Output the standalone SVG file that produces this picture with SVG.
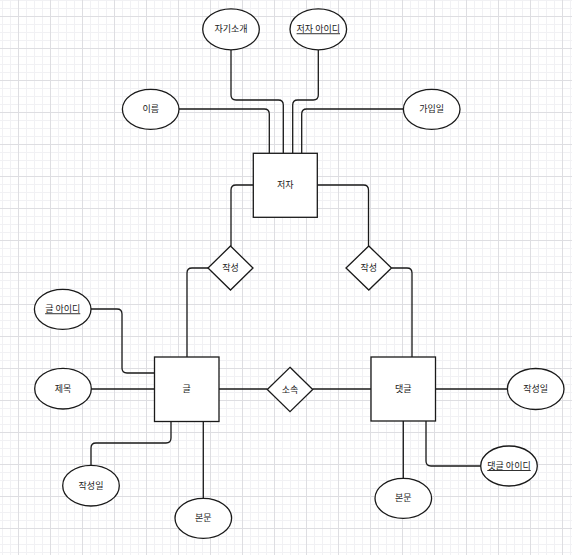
<svg xmlns="http://www.w3.org/2000/svg" width="572" height="555" viewBox="0 0 572 555">
<defs>
<pattern id="minor" x="2" y="0" width="8" height="8" patternUnits="userSpaceOnUse">
<path d="M0,0.5 H8 M0.5,0 V8" fill="none" stroke="#f1f1f4" stroke-width="1"/>
</pattern>
<pattern id="major" x="18" y="16" width="32" height="32" patternUnits="userSpaceOnUse">
<path d="M0,0.5 H32 M0.5,0 V32" fill="none" stroke="#dedee2" stroke-width="1"/>
</pattern>
</defs>
<style>
.shape{fill:#ffffff;stroke:#1a1a1a;stroke-width:1.3}
.conn path{fill:none;stroke:#1a1a1a;stroke-width:1.3}
text{font-family:"Noto Sans CJK KR","Noto Sans",sans-serif;font-size:9px;fill:#1a1a1a;text-anchor:middle}
.key{text-decoration:underline}
</style>
<rect width="572" height="555" fill="#ffffff"/>
<rect width="572" height="555" fill="url(#minor)"/>
<rect width="572" height="555" fill="url(#major)"/>

<g id="connectors" class="conn">
<path d="M231,50 V95 Q231,100 236,100 H278.3 Q283.3,100 283.3,105 V153"/>
<path d="M318.3,50 V95 Q318.3,100 313.3,100 H297.7 Q292.7,100 292.7,105 V153"/>
<path d="M179,109 H264.3 Q269.3,109 269.3,114 V153"/>
<path d="M403.3,109 H306.7 Q301.7,109 301.7,114 V153"/>
<path d="M253,185 H236 Q231,185 231,190 V246"/>
<path d="M317,185 H363.5 Q368.5,185 368.5,190 V246"/>
<path d="M208,268 H192 Q187,268 187,273 V357"/>
<path d="M391.5,268 H407 Q412,268 412,273 V357"/>
<path d="M91,309 H117 Q122,309 122,314 V368 Q122,373 127,373 H154"/>
<path d="M91,389 H154"/>
<path d="M219,389 H267.5"/>
<path d="M312.5,389 H371"/>
<path d="M435,389 H507.5"/>
<path d="M403.3,421 V478.3"/>
<path d="M426,421 V461 Q426,466 431,466 H481"/>
<path d="M171,421.5 V438 Q171,443 166,443 H96 Q91,443 91,448 V465.5"/>
<path d="M203.3,421.5 V498.3"/>
</g>

<g id="author">
<rect class="shape" x="253.3" y="153.3" width="64" height="64"/>
<text x="285.3" y="188.3">저자</text>
</g>
<g id="author-intro">
<ellipse class="shape" cx="231" cy="29.3" rx="28.3" ry="20.5"/>
<text x="231" y="32.3">자기소개</text>
</g>
<g id="author-id">
<ellipse class="shape" cx="318.3" cy="29.3" rx="28.3" ry="20.5"/>
<text class="key" x="318.3" y="32.3">저자 아이디</text>
</g>
<g id="author-name">
<ellipse class="shape" cx="150.7" cy="109.3" rx="28.3" ry="20"/>
<text x="150.7" y="112.3">이름</text>
</g>
<g id="author-joined">
<ellipse class="shape" cx="431.7" cy="109.3" rx="28.3" ry="20"/>
<text x="431.7" y="112.3">가입일</text>
</g>

<g id="writes-post">
<polygon class="shape" points="230.5,246 253,268 230.5,290 208,268"/>
<text x="230.5" y="271">작성</text>
</g>
<g id="writes-comment">
<polygon class="shape" points="368.8,246 391.5,268 368.8,290 346,268"/>
<text x="368.8" y="271">작성</text>
</g>

<g id="post">
<rect class="shape" x="154.5" y="357" width="64.5" height="64.5"/>
<text x="186.7" y="392.3">글</text>
</g>
<g id="post-id">
<ellipse class="shape" cx="62.7" cy="309.3" rx="28.3" ry="20"/>
<text class="key" x="62.7" y="312.3">글 아이디</text>
</g>
<g id="post-title">
<ellipse class="shape" cx="63" cy="388.7" rx="28.3" ry="20.3"/>
<text x="63" y="391.7">제목</text>
</g>
<g id="post-date">
<ellipse class="shape" cx="91" cy="485.7" rx="28.3" ry="20.3"/>
<text x="91" y="488.7">작성일</text>
</g>
<g id="post-body">
<ellipse class="shape" cx="203.3" cy="518.3" rx="28.3" ry="20"/>
<text x="203.3" y="521.3">본문</text>
</g>

<g id="belongs">
<polygon class="shape" points="290,367.3 312.7,389.5 290,411.7 267.3,389.5"/>
<text x="290" y="392.5">소속</text>
</g>

<g id="comment">
<rect class="shape" x="371" y="357" width="64.5" height="64"/>
<text x="403.3" y="392.3">댓글</text>
</g>
<g id="comment-date">
<ellipse class="shape" cx="535.7" cy="389" rx="28.3" ry="20.5"/>
<text x="535.7" y="392">작성일</text>
</g>
<g id="comment-body">
<ellipse class="shape" cx="403.3" cy="498.3" rx="28.3" ry="20"/>
<text x="403.3" y="501.3">본문</text>
</g>
<g id="comment-id">
<ellipse class="shape" cx="509" cy="466" rx="28.3" ry="20"/>
<text class="key" x="509" y="469">댓글 아이디</text>
</g>
</svg>
